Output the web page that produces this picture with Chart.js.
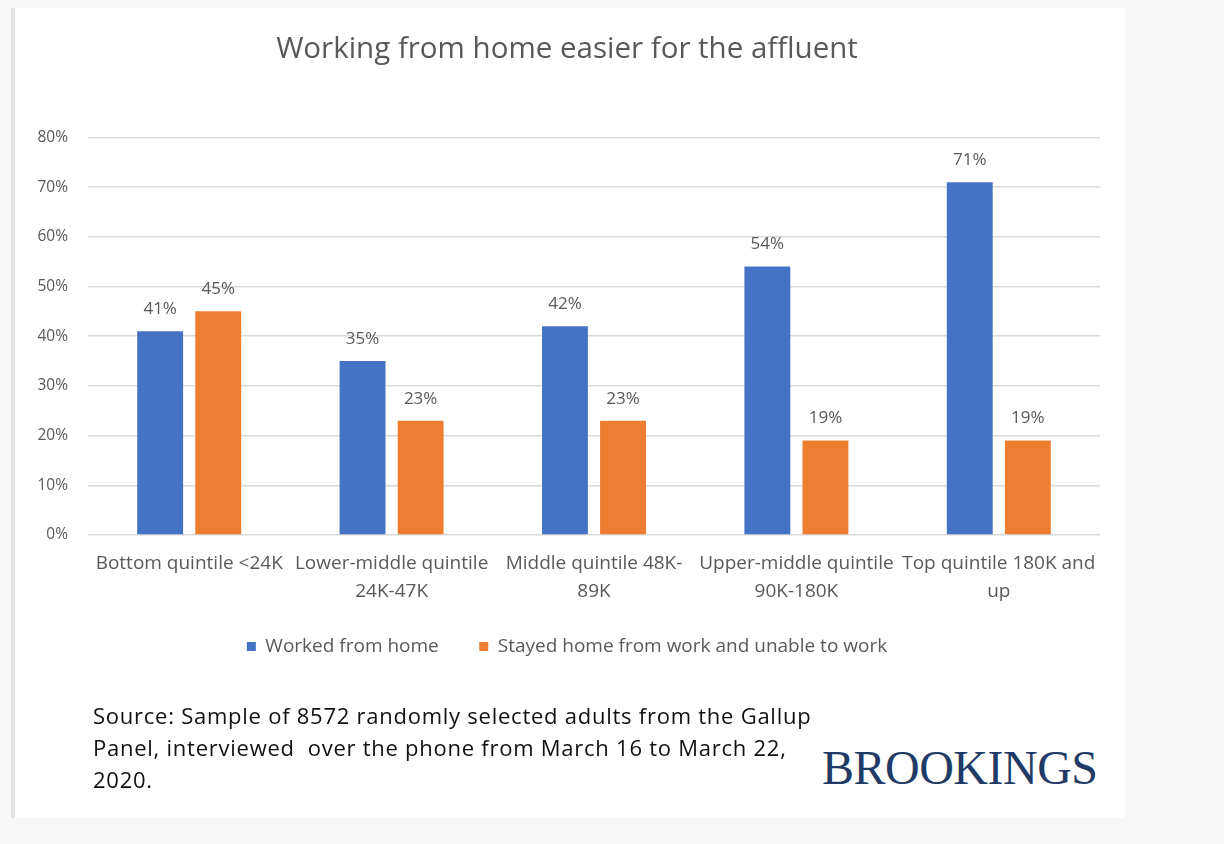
<html>
<head>
  <title>Working from home easier for the affluent</title>
  <script src="https://cdn.jsdelivr.net/npm/chart.js"></script>
  <style>
    body { margin: 0; background: #f7f7f7; width: 1224px; height: 844px; position: relative; overflow: hidden; }
    .card { position: absolute; left: 15px; top: 8px; width: 1110px; height: 810px; background: #fff; }
    .edge { position: absolute; left: 11px; top: 8px; width: 4px; height: 810px; background: #e2e2e2; }
    .chart-box { position: absolute; left: 0; top: 0; width: 1224px; height: 720px; }
    .source { position: absolute; left: 93px; top: 699px; font-family: "Open Sans", sans-serif; font-size: 22px; letter-spacing: 0.75px; line-height: 32px; color: #111; }
    .logo { position: absolute; left: 822px; top: 740px; font-family: "Liberation Serif", serif; font-size: 48px; color: #1f3b66; letter-spacing: -0.5px; }
  </style>
</head>

<body>
  <div class="card"></div>
  <div class="edge"></div>
  <div class="chart-box">
    <canvas id="myChart" width="1224" height="720"></canvas>
  </div>
  <div class="source">Source: Sample of 8572 randomly selected adults from the Gallup<br>Panel, interviewed&nbsp; over the phone from March 16 to March 22,<br>2020.</div>
  <div class="logo">BROOKINGS</div>
  <script>
    // 類別與數值
    const categories = [
      'Bottom quintile <24K',
      ['Lower-middle quintile', '24K-47K'],
      ['Middle quintile 48K-', '89K'],
      ['Upper-middle quintile', '90K-180K'],
      ['Top quintile 180K and', 'up']
    ];
    const workedFromHome = [41, 35, 42, 54, 71];
    const stayedHome = [45, 23, 23, 19, 19];
    const yTicks = [0, 10, 20, 30, 40, 50, 60, 70, 80];

    const grayText = '#595959';
    const fontFamily = '"Open Sans", sans-serif';

    // 在長條上方寫數值
    const barLabels = {
      id: 'barLabels',
      afterDatasetsDraw(chart) {
        const ctx = chart.ctx;
        ctx.save();
        ctx.font = '17px ' + fontFamily;
        ctx.fillStyle = grayText;
        ctx.textAlign = 'center';
        ctx.textBaseline = 'middle';
        chart.data.datasets.forEach((ds, i) => {
          chart.getDatasetMeta(i).data.forEach((bar, j) => {
            ctx.fillText(ds.data[j] + '%', bar.x, bar.y - 22);
          });
        });
        ctx.restore();
      }
    };

    const ctx = document.getElementById('myChart').getContext('2d');
    const myChart = new Chart(ctx, {
      type: 'bar',
      data: {
        labels: categories,
        datasets: [{
          label: 'Worked from home',
          data: workedFromHome,
          backgroundColor: '#4472C4'
        }, {
          label: 'Stayed home from work and unable to work',
          data: stayedHome,
          backgroundColor: '#ED7D31'
        }]
      },
      options: {
        responsive: false,
        animation: false,
        categoryPercentage: 0.574,
        barPercentage: 0.79,
        layout: { padding: { left: 34, right: 124, top: 0, bottom: 54 } },
        plugins: {
          title: {
            display: true,
            text: 'Working from home easier for the affluent',
            color: grayText,
            font: { family: fontFamily, size: 29.5, weight: 'normal', lineHeight: 1.2 },
            padding: { top: 32, bottom: 70 }
          },
          legend: {
            position: 'bottom',
            labels: {
              color: grayText,
              font: { family: fontFamily, size: 19 },
              boxWidth: 9,
              boxHeight: 9,
              padding: 12,
              // 兩個圖例之間留較寬的空隙
              generateLabels(chart) {
                const items = Chart.defaults.plugins.legend.labels.generateLabels(chart);
                items[0].text += '\u2002\u2002\u2002';
                return items;
              }
            }
          },
          tooltip: { enabled: false }
        },
        scales: {
          x: {
            grid: { display: false, drawTicks: false },
            border: { display: false },
            ticks: {
              color: grayText,
              font: { family: fontFamily, size: 19, lineHeight: 1.474 },
              padding: 15,
              maxRotation: 0,
              autoSkip: false
            },
            afterFit(scale) { scale.height = 90; }
          },
          y: {
            min: 0,
            max: 80,
            grid: { color: '#d9d9d9', lineWidth: 1.5, drawTicks: false },
            border: { display: false },
            afterBuildTicks(scale) { scale.ticks = yTicks.map(v => ({ value: v })); },
            ticks: {
              color: grayText,
              font: { family: fontFamily, size: 15.5 },
              padding: 20,
              callback: v => v + '%'
            },
            afterFit(scale) { scale.width = 54; }
          }
        }
      },
      plugins: [barLabels]
    });
  </script>
</body>

</html>
